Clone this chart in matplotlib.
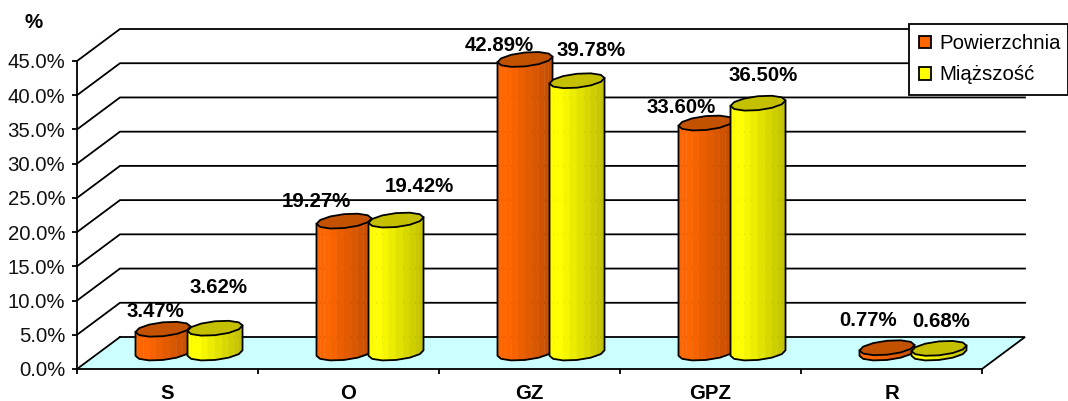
import numpy as np
import matplotlib
matplotlib.use("Agg")
import matplotlib.pyplot as plt
from matplotlib.patches import Patch, Polygon
from matplotlib.colors import to_rgb

plt.rcParams['font.family'] = ['Liberation Sans', 'DejaVu Sans']

categories = ['S', 'O', 'GZ', 'GPZ', 'R']
powierzchnia = [3.47, 19.27, 42.89, 33.60, 0.77]
miazszosc = [3.62, 19.42, 39.78, 36.50, 0.68]
y_ticks = [0, 5, 10, 15, 20, 25, 30, 35, 40, 45]
pow_label_offsets = [(-8, 18), (-28, 20), (-26, 13.5), (-25, 16), (-19, 27)]
mia_label_offsets = [(4, 41), (23, 34), (14, 30), (5, 28), (2, 27)]

W, H = 1068, 401
FS = 14.7
fig = plt.figure(figsize=(W / 100, H / 100), dpi=100)
ax = fig.add_axes([77 / W, (H - 369) / H, 905 / W, 308 / H])
ax.set_xlim(0, 5)
ax.set_ylim(0, 45)
ax.patch.set_visible(False)

PXX = 905 / 5
PXY = 308 / 45
DX = 43 / PXX
DY = 32 / PXY
LW = 1.3

# floor and walls
ax.add_patch(Polygon([(0, 0), (5, 0), (5 + DX, DY), (DX, DY)], closed=True,
                     facecolor='#CCFFFF', edgecolor='none', clip_on=False, zorder=1))
ax.plot([5, 5 + DX, DX], [0, DY, DY], color='black', lw=LW, clip_on=False, zorder=2,
        solid_joinstyle='miter')
for t in y_ticks[1:]:
    ax.plot([0, DX, 5 + DX], [t, t + DY, t + DY], color='black', lw=LW, clip_on=False,
            zorder=2, solid_joinstyle='miter')
ax.plot([0, DX], [0, DY], color='black', lw=LW, clip_on=False, zorder=2)

# oblique cylinders
RX = 25.6 / PXX
DR = 0.234
BAR_OFF = 26 / PXX
T0 = np.arctan2(DX * PXX * DR, RX * PXX)


def ring(cx, v, t):
    d = 0.5 + DR * np.sin(t)
    return cx + RX * np.cos(t) + DX * d, v + DY * d


def cylinder(cx, v, light, dark, top, z):
    ts = np.linspace(np.pi + T0, 2 * np.pi + T0, 7)
    xb, yb = ring(cx, 0, ts)
    xt, yt = ring(cx, v, ts)
    lo, hi = np.array(to_rgb(light)), np.array(to_rgb(dark))
    xmin, xmax = xb.min(), xb.max()
    tf = np.linspace(np.pi + T0, 2 * np.pi + T0, 13)
    xfb, yfb = ring(cx, 0, tf)
    xft, yft = ring(cx, v, tf)
    for i in range(len(tf) - 1):
        f = ((xfb[i] + xfb[i + 1]) / 2 - xmin) / (xmax - xmin)
        f = max(0, (f - 0.2) / 0.8)
        col = lo + (hi - lo) * f
        ax.add_patch(Polygon([(xfb[i], yfb[i]), (xfb[i + 1], yfb[i + 1]),
                              (xft[i + 1], yft[i + 1]), (xft[i], yft[i])], closed=True,
                             facecolor=col, edgecolor=col, lw=0.3, clip_on=False, zorder=z))
    ax.plot(np.r_[xt[0], xb, xt[-1]], np.r_[yt[0], yb, yt[-1]], color='black', lw=LW,
            clip_on=False, zorder=z + 0.1, solid_joinstyle='round')
    ta = np.linspace(T0, 2 * np.pi + T0, 13)
    xa, ya = ring(cx, v, ta)
    ax.add_patch(Polygon(np.c_[xa, ya], closed=True, facecolor=top, edgecolor='black',
                         lw=LW, clip_on=False, zorder=z + 0.2, joinstyle='round'))


for i in range(len(categories)):
    c = i + 0.5
    cylinder(c - BAR_OFF, powierzchnia[i], '#FF6600', '#BF4D00', '#C25200', 3 + i)
    cylinder(c + BAR_OFF, miazszosc[i], '#FFFF00', '#BFBF00', '#C4C000', 3.5 + i)
    for v, sign, off in ((powierzchnia[i], -1, pow_label_offsets[i]),
                         (miazszosc[i], 1, mia_label_offsets[i])):
        ax.annotate(f'{v:.2f}%', xy=(c + sign * BAR_OFF + DX / 2, v + DY / 2), xytext=off,
                    textcoords='offset pixels', ha='center', va='center',
                    fontsize=FS, fontweight='bold', color='black', zorder=20,
                    annotation_clip=False)

# axes
for s in ('top', 'right'):
    ax.spines[s].set_visible(False)
for s in ('left', 'bottom'):
    ax.spines[s].set_linewidth(LW)
    ax.spines[s].set_zorder(15)
ax.set_yticks(y_ticks)
ax.set_yticklabels([f'{t:.1f}%' for t in y_ticks], fontsize=FS, color='#111111')
ax.tick_params(axis='y', length=3.5, width=LW, pad=5)
ax.set_xticks(range(6))
ax.tick_params(axis='x', which='major', length=3.5, width=LW, labelbottom=False)
ax.set_xticks(np.arange(5) + 0.5, minor=True)
ax.set_xticklabels(categories, minor=True, fontsize=FS, fontweight='bold')
ax.tick_params(axis='x', which='minor', length=0, pad=10.5)

fig.text(34 / W, 1 - 23 / H, '%', fontsize=FS, fontweight='bold', ha='center', va='center')

leg = ax.legend(handles=[Patch(facecolor='#FF6600', edgecolor='black', lw=LW, label='Powierzchnia'),
                         Patch(facecolor='#FFFF00', edgecolor='black', lw=LW, label='Miąższość')],
                loc='upper left', bbox_to_anchor=(909 / W, 1 - 91 / H, 159 / W, 67 / H),
                bbox_transform=fig.transFigure, mode='expand', borderaxespad=0,
                fontsize=FS, frameon=True, fancybox=False, edgecolor='black', framealpha=1,
                handlelength=0.6, handleheight=0.6, handletextpad=0.4, labelspacing=0.6,
                borderpad=0.5)
leg.get_frame().set_linewidth(LW)
leg.set_zorder(30)

fig.savefig('out.png', dpi=100)
